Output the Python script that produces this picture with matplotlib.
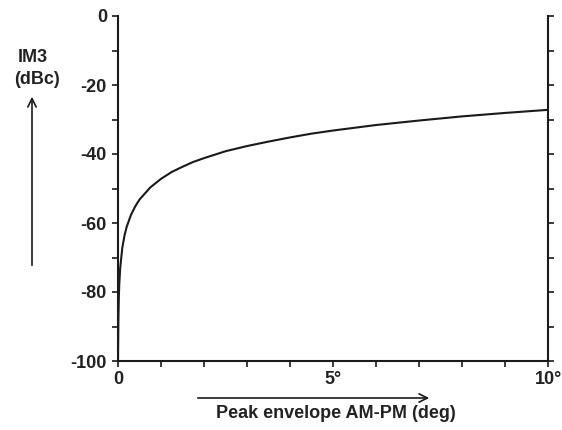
import matplotlib
matplotlib.use("Agg")
import matplotlib.pyplot as plt
from matplotlib.ticker import MultipleLocator

# data
phase_deg = [0.0, 0.005, 0.01, 0.02, 0.03, 0.05, 0.1, 0.15, 0.2, 0.3, 0.4, 0.5, 0.75,
             1.0, 1.25, 1.5, 1.75, 2.0, 2.5, 3.0, 3.5, 4.0, 4.5, 5.0, 6.0, 7.0, 8.0,
             9.0, 10.0]
im3_dbc = [-100.0, -93.2, -87.2, -81.2, -77.7, -73.2, -67.2, -63.7, -61.2, -57.7, -55.2,
           -53.2, -49.7, -47.2, -45.2, -43.7, -42.3, -41.2, -39.2, -37.7, -36.4, -35.2,
           -34.1, -33.2, -31.6, -30.3, -29.1, -28.1, -27.2]
xtick_vals = [0, 5, 10]
xtick_labels = ["0", "5°", "10°"]
ytick_vals = [0, -20, -40, -60, -80, -100]
ytick_labels = ["0", "-20", "-40", "-60", "-80", "-100"]

plt.rcParams['font.family'] = ['Liberation Sans', 'DejaVu Sans']
FS = 13
TXT = '#222222'
fig = plt.figure(figsize=(5.62, 4.30), dpi=100)
ax = fig.add_axes([118/562, 69/430, 430/562, 345/430])

ax.plot(phase_deg, im3_dbc, color='#1a1a1a', lw=1.5, solid_capstyle='round',
        solid_joinstyle='round')
ax.set_xlim(0, 10)
ax.set_ylim(-100, 0)

for s in ['left', 'right', 'bottom']:
    ax.spines[s].set_linewidth(1.5)
    ax.spines[s].set_color('#1a1a1a')
ax.spines['top'].set_visible(False)

ax.set_xticks(xtick_vals)
ax.set_xticklabels(xtick_labels)
ax.xaxis.set_minor_locator(MultipleLocator(1))
ax.set_yticks(ytick_vals)
ax.set_yticklabels(ytick_labels)
ax.yaxis.set_minor_locator(MultipleLocator(10))

ax.tick_params(axis='both', which='both', direction='out', length=4, width=1.2,
               color='#1a1a1a')
ax.tick_params(axis='y', which='both', right=True, labelright=False)
ax.tick_params(axis='y', which='major', pad=4)
ax.tick_params(axis='x', which='major', pad=3.5)
for lab in ax.get_xticklabels() + ax.get_yticklabels():
    lab.set_fontsize(FS)
    lab.set_fontweight('bold')
    lab.set_color(TXT)

# axis labels with arrows
fig.text(33/562, 1 - 57/430, "IM3", ha='center', va='center', fontsize=FS,
         fontweight='bold', color=TXT)
fig.text(37/562, 1 - 79/430, "(dBc)", ha='center', va='center', fontsize=FS,
         fontweight='bold', color=TXT)
fig.add_artist(matplotlib.patches.FancyArrowPatch(
    (32/562, 1 - 268/430), (32/562, 1 - 94/430), transform=fig.transFigure,
    arrowstyle='->,head_length=6,head_width=3', lw=1.2, color='#1a1a1a'))

fig.text(336/562, 1 - 414/430, "Peak envelope AM-PM (deg)", ha='center', va='center',
         fontsize=FS, fontweight='bold', color=TXT)
fig.add_artist(matplotlib.patches.FancyArrowPatch(
    (195/562, 1 - 398/430), (432/562, 1 - 398/430), transform=fig.transFigure,
    arrowstyle='->,head_length=6,head_width=3', lw=1.2, color='#1a1a1a'))

fig.savefig("out.png", dpi=100)
